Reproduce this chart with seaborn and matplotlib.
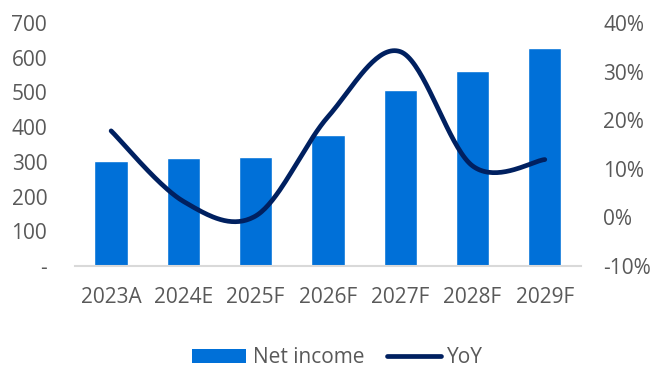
import numpy as np
import pandas as pd
import matplotlib
matplotlib.use("Agg")
import matplotlib.pyplot as plt
from matplotlib.ticker import FuncFormatter, MultipleLocator
from matplotlib.patches import Patch
from matplotlib.lines import Line2D
import seaborn as sns

# Net income by year and its year-on-year growth
years = ["2023A", "2024E", "2025F", "2026F", "2027F", "2028F", "2029F"]
net_income = [303, 312, 313, 378, 507, 561, 627]
yoy_pct = [17.8, 3.3, 0.3, 20.7, 34.1, 10.6, 11.9]

BAR_COLOR = "#0070D8"
LINE_COLOR = "#002060"
TEXT_COLOR = "#595959"
AXIS_COLOR = "#D9D9D9"

sns.set_theme(style="white")
plt.rcParams["font.family"] = ["Open Sans", "DejaVu Sans"]
plt.rcParams["font.size"] = 15


def smooth_curve(xs, ys, steps=40):
    """Cubic Bezier through every point with Catmull-Rom style tangents."""
    pts = np.column_stack([xs, ys]).astype(float)
    n = len(pts)
    out = [pts[0]]
    for i in range(n - 1):
        p0 = pts[max(i - 1, 0)]
        p1 = pts[i]
        p2 = pts[i + 1]
        p3 = pts[min(i + 2, n - 1)]
        c1 = p1 + (p2 - p0) / 6.0
        c2 = p2 - (p3 - p1) / 6.0
        t = np.linspace(0, 1, steps)[1:, None]
        seg = ((1 - t) ** 3) * p1 + 3 * ((1 - t) ** 2) * t * c1 \
            + 3 * (1 - t) * t ** 2 * c2 + t ** 3 * p2
        out.extend(seg)
    out = np.array(out)
    return out[:, 0], out[:, 1]


df = pd.DataFrame({"year": years, "net_income": net_income, "yoy": yoy_pct})

fig = plt.figure(figsize=(6.52, 3.70), dpi=100)
ax = fig.add_axes([0.115, 0.281, 0.776, 0.657])

sns.barplot(data=df, x="year", y="net_income", color=BAR_COLOR,
            saturation=1, width=0.46, ax=ax)
ax.set_ylim(0, 700)
ax.set_xlim(-0.5, len(years) - 0.5)
ax.yaxis.set_major_locator(MultipleLocator(100))
ax.yaxis.set_major_formatter(FuncFormatter(lambda v, _: "-" if v == 0 else f"{v:.0f}"))
ax.set_xlabel("")
ax.set_ylabel("")

ax2 = ax.twinx()
sx, sy = smooth_curve(np.arange(len(years)), df["yoy"].to_numpy())
sns.lineplot(x=sx, y=sy, color=LINE_COLOR, linewidth=3.4, sort=False,
             ax=ax2, solid_capstyle="round")
ax2.set_ylim(-10, 40)
ax2.yaxis.set_major_locator(MultipleLocator(10))
ax2.yaxis.set_major_formatter(FuncFormatter(lambda v, _: f"{v:.0f}%"))
ax2.set_ylabel("")

for a in (ax, ax2):
    for side in ("top", "left", "right", "bottom"):
        a.spines[side].set_visible(False)
    a.grid(False)
ax.spines["bottom"].set_visible(True)
ax.spines["bottom"].set_color(AXIS_COLOR)
ax.spines["bottom"].set_linewidth(1.5)

ax.tick_params(axis="y", length=0, pad=20, colors=TEXT_COLOR, labelsize=15)
ax.tick_params(axis="x", length=0, pad=15, colors=TEXT_COLOR, labelsize=15)
ax2.tick_params(axis="y", length=0, pad=16, colors=TEXT_COLOR, labelsize=15)

handles = [Patch(facecolor=BAR_COLOR, edgecolor="none", label="Net income"),
           Line2D([0], [0], color=LINE_COLOR, linewidth=3.4, label="YoY",
                  solid_capstyle="round")]
fig.legend(handles=handles, loc="center", bbox_to_anchor=(0.518, 0.034),
           ncol=2, frameon=False, fontsize=15, labelcolor=TEXT_COLOR,
           handlelength=2.6, handleheight=0.65, handletextpad=0.3,
           columnspacing=1.1, borderpad=0)

fig.savefig("out.png", dpi=100)
